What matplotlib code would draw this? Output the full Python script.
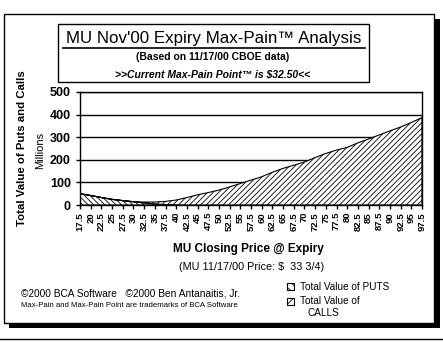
import numpy as np
import matplotlib
matplotlib.use("Agg")
from matplotlib import pyplot as plt
from matplotlib.patches import Rectangle
from matplotlib.lines import Line2D

# strike prices (categories)
strikes = ["17.5", "20", "22.5", "25", "27.5", "30", "32.5", "35", "37.5", "40",
           "42.5", "45", "47.5", "50", "52.5", "55", "57.5", "60", "62.5", "65",
           "67.5", "70", "72.5", "75", "77.5", "80", "82.5", "85", "87.5", "90",
           "92.5", "95", "97.5"]

# values in millions
puts = [50, 42, 33, 25, 19, 14, 9, 5, 2, 0.5, 0, 0, 0, 0, 0, 0, 0,
        0, 0, 0, 0, 0, 0, 0, 0, 0, 0, 0, 0, 0, 0, 0, 0]
calls = [0, 0, 0, 0, 1, 1, 4, 8, 14, 21.5, 33, 45, 55, 66, 80, 95, 110,
         125, 145, 162, 176, 190, 210, 228, 243, 255, 275, 292, 310, 328, 345, 365, 387]

W, H = 443, 342
plt.rcParams['font.family'] = ['Liberation Sans', 'DejaVu Sans']
plt.rcParams['hatch.linewidth'] = 0.6

fig = plt.figure(figsize=(W / 100, H / 100), dpi=100)


def fx(px):
    return px / W


def fy(py):
    return 1 - py / H


# frame with shadow (behind the axes)
fig.add_artist(Rectangle((fx(9), fy(328)), fx(440) - fx(9), fy(19) - fy(328),
                         transform=fig.transFigure, facecolor="black", edgecolor="none", zorder=-3))
fig.add_artist(Rectangle((fx(3.5), fy(323)), fx(430.5), fy(14) - fy(323),
                         transform=fig.transFigure, facecolor="white", edgecolor="black", lw=1, zorder=-2))
fig.add_artist(Line2D([0, 1], [fy(339), fy(339)], transform=fig.transFigure, color="black", lw=1))

# title box
fig.add_artist(Rectangle((fx(58), fy(82)), fx(311), fy(24) - fy(82),
                         transform=fig.transFigure, facecolor="white", edgecolor="black", lw=1))
fig.text(fx(214), fy(38), "MU Nov'00 Expiry Max-Pain\u2122 Analysis", ha="center", va="center",
         fontsize=12.2)
fig.add_artist(Line2D([fx(63), fx(365)], [fy(47.5), fy(47.5)], transform=fig.transFigure,
                      color="black", lw=1.2))
fig.text(fx(213), fy(57), "(Based on 11/17/00 CBOE data)", ha="center", va="center",
         fontsize=7.5, fontweight="bold")
fig.text(fx(213), fy(74), ">>Current Max-Pain Point\u2122 is $32.50<<", ha="center", va="center",
         fontsize=7.5, fontweight="bold", style="italic")

ax = fig.add_axes([fx(80), fy(205), fx(422) - fx(80), fy(92) - fy(205)])
x = np.arange(len(strikes))
p = np.array(puts)
c = np.array(calls)
ax.fill_between(x, 0, p, facecolor="white", edgecolor="black", hatch="\\\\\\\\\\\\", lw=0.8)
ax.fill_between(x, p, p + c, facecolor="white", edgecolor="black", hatch="//////", lw=0.8)

ax.set_xlim(0, len(strikes) - 1)
ax.set_ylim(0, 500)
ax.set_yticks([0, 100, 200, 300, 400, 500])
ax.set_xticks(x)
ax.set_xticklabels(strikes, rotation=90, fontsize=6.8, fontweight="bold")
ax.tick_params(axis="y", labelsize=9, length=3, width=1)
for lab in ax.get_yticklabels():
    lab.set_fontweight("bold")
ax.tick_params(axis="x", length=3, width=1, pad=2)
ax.yaxis.grid(True, color="black", lw=1)
ax.set_axisbelow(True)
for s in ax.spines.values():
    s.set_linewidth(1)

fig.text(fx(22), fy(148), "Total Value of Puts and Calls", rotation=90, ha="center", va="center",
         fontsize=8.2, fontweight="bold")
fig.text(fx(40), fy(150), "Millions", rotation=90, ha="center", va="center", fontsize=8)

fig.text(fx(248), fy(249), "MU Closing Price @ Expiry", ha="center", va="center",
         fontsize=8.5, fontweight="bold")
fig.text(fx(252), fy(267), "(MU 11/17/00 Price: $  33 3/4)", ha="center", va="center", fontsize=7.8)

fig.text(fx(21), fy(293), "\u00a92000 BCA Software   \u00a92000 Ben Antanaitis, Jr.", ha="left", va="center",
         fontsize=7.3)
fig.text(fx(21), fy(305.5), "Max-Pain and Max-Pain Point are trademarks of BCA Software", ha="left",
         va="center", fontsize=5.6)

# legend
fig.add_artist(Rectangle((fx(287), fy(290)), fx(7), fy(283) - fy(290), transform=fig.transFigure,
                         facecolor="white", edgecolor="black", hatch="\\\\\\\\", lw=0.8))
fig.add_artist(Rectangle((fx(287), fy(305)), fx(7), fy(298) - fy(305), transform=fig.transFigure,
                         facecolor="white", edgecolor="black", hatch="////", lw=0.8))
fig.text(fx(300), fy(287), "Total Value of PUTS", ha="left", va="center", fontsize=7.2)
fig.text(fx(300), fy(301), "Total Value of", ha="left", va="center", fontsize=7.2)
fig.text(fx(307), fy(313), "CALLS", ha="left", va="center", fontsize=7.2)

fig.savefig("out.png", dpi=100)
